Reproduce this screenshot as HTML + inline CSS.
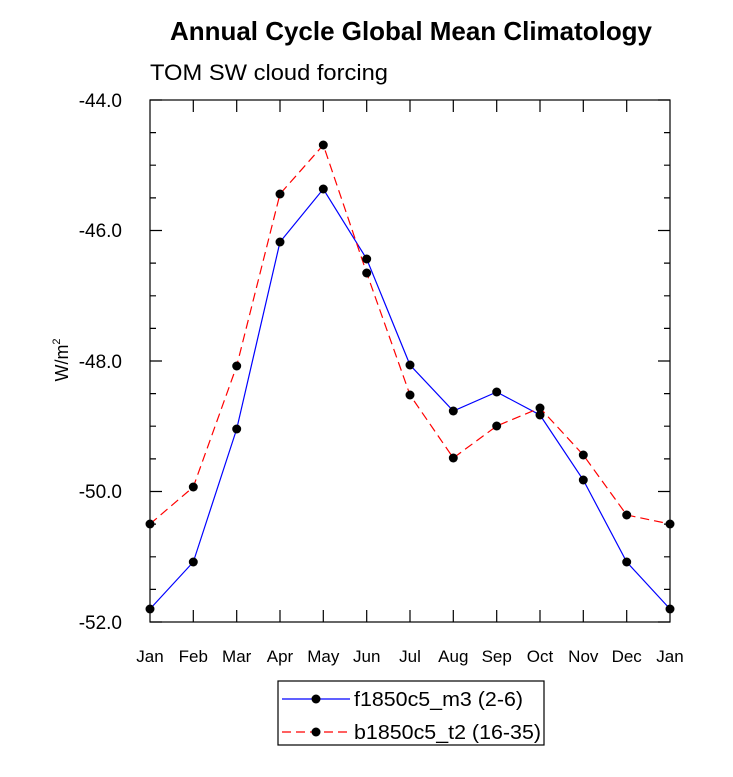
<!DOCTYPE html>
<html><head><style>body{margin:0;background:#fff}</style></head><body>
<svg width="733" height="772" xmlns="http://www.w3.org/2000/svg" font-family="Liberation Sans, sans-serif">
<rect width="733" height="772" fill="#fff"/>
<text x="411" y="40" font-size="26" font-weight="bold" text-anchor="middle" textLength="482" lengthAdjust="spacingAndGlyphs">Annual Cycle Global Mean Climatology</text>
<text x="150" y="80" font-size="22" textLength="238" lengthAdjust="spacingAndGlyphs">TOM SW cloud forcing</text>
<g stroke="#000" stroke-width="1.2" fill="none">
<rect x="150" y="100" width="520" height="522"/>
<path d="M150 100h12M670 100h-12M150 230.5h12M670 230.5h-12M150 361h12M670 361h-12M150 491.5h12M670 491.5h-12M150 622h12M670 622h-12"/>
<path d="M150 132.6h6M150 165.2h6M150 197.9h6M150 263.1h6M150 295.8h6M150 328.4h6M150 393.6h6M150 426.2h6M150 458.9h6M150 524.1h6M150 556.8h6M150 589.4h6M670 132.6h-6M670 165.2h-6M670 197.9h-6M670 263.1h-6M670 295.8h-6M670 328.4h-6M670 393.6h-6M670 426.2h-6M670 458.9h-6M670 524.1h-6M670 556.8h-6M670 589.4h-6"/>
<path d="M193.3 622v-12M236.7 622v-12M280 622v-12M323.3 622v-12M366.7 622v-12M410 622v-12M453.3 622v-12M496.7 622v-12M540 622v-12M583.3 622v-12M626.7 622v-12M193.3 100v12M236.7 100v12M280 100v12M323.3 100v12M366.7 100v12M410 100v12M453.3 100v12M496.7 100v12M540 100v12M583.3 100v12M626.7 100v12"/>
</g>
<g font-size="19" text-anchor="end">
<text x="122" y="107">-44.0</text><text x="122" y="237">-46.0</text><text x="122" y="368">-48.0</text><text x="122" y="498">-50.0</text><text x="122" y="629">-52.0</text>
</g>
<g font-size="17" text-anchor="middle">
<text x="150" y="662">Jan</text><text x="193.3" y="662">Feb</text><text x="236.7" y="662">Mar</text><text x="280" y="662">Apr</text><text x="323.3" y="662">May</text><text x="366.7" y="662">Jun</text><text x="410" y="662">Jul</text><text x="453.3" y="662">Aug</text><text x="496.7" y="662">Sep</text><text x="540" y="662">Oct</text><text x="583.3" y="662">Nov</text><text x="626.7" y="662">Dec</text><text x="670" y="662">Jan</text>
</g>
<text transform="translate(68,360) rotate(-90)" font-size="18" text-anchor="middle">W/m<tspan font-size="11" dy="-8">2</tspan></text>
<polyline fill="none" stroke="#00f" stroke-width="1.2" points="150,609 193.3,562 236.7,429 280,242 323.3,189 366.7,259 410,365 453.3,411 496.7,392 540,415 583.3,480 626.7,562 670,609"/>
<polyline fill="none" stroke="#f00" stroke-width="1.2" stroke-dasharray="9,5" points="150,524 193.3,487 236.7,366 280,194 323.3,145 366.7,273 410,395 453.3,458 496.7,426 540,408 583.3,455 626.7,515 670,524"/>
<g fill="#000">
<circle cx="150" cy="609" r="4.5"/><circle cx="193.3" cy="562" r="4.5"/><circle cx="236.7" cy="429" r="4.5"/><circle cx="280" cy="242" r="4.5"/><circle cx="323.3" cy="189" r="4.5"/><circle cx="366.7" cy="259" r="4.5"/><circle cx="410" cy="365" r="4.5"/><circle cx="453.3" cy="411" r="4.5"/><circle cx="496.7" cy="392" r="4.5"/><circle cx="540" cy="415" r="4.5"/><circle cx="583.3" cy="480" r="4.5"/><circle cx="626.7" cy="562" r="4.5"/><circle cx="670" cy="609" r="4.5"/>
<circle cx="150" cy="524" r="4.5"/><circle cx="193.3" cy="487" r="4.5"/><circle cx="236.7" cy="366" r="4.5"/><circle cx="280" cy="194" r="4.5"/><circle cx="323.3" cy="145" r="4.5"/><circle cx="366.7" cy="273" r="4.5"/><circle cx="410" cy="395" r="4.5"/><circle cx="453.3" cy="458" r="4.5"/><circle cx="496.7" cy="426" r="4.5"/><circle cx="540" cy="408" r="4.5"/><circle cx="583.3" cy="455" r="4.5"/><circle cx="626.7" cy="515" r="4.5"/><circle cx="670" cy="524" r="4.5"/>
</g>
<rect x="278" y="681" width="266" height="64" fill="none" stroke="#000" stroke-width="1.2"/>
<line x1="282" y1="699" x2="350" y2="699" stroke="#00f" stroke-width="1.2"/>
<line x1="282" y1="732" x2="350" y2="732" stroke="#f00" stroke-width="1.2" stroke-dasharray="9,5"/>
<circle cx="316" cy="699" r="4.5"/><circle cx="316" cy="732" r="4.5"/>
<text x="354" y="706" font-size="20" textLength="169" lengthAdjust="spacingAndGlyphs">f1850c5_m3 (2-6)</text>
<text x="354" y="739" font-size="20" textLength="187" lengthAdjust="spacingAndGlyphs">b1850c5_t2 (16-35)</text>
</svg>
</body></html>
